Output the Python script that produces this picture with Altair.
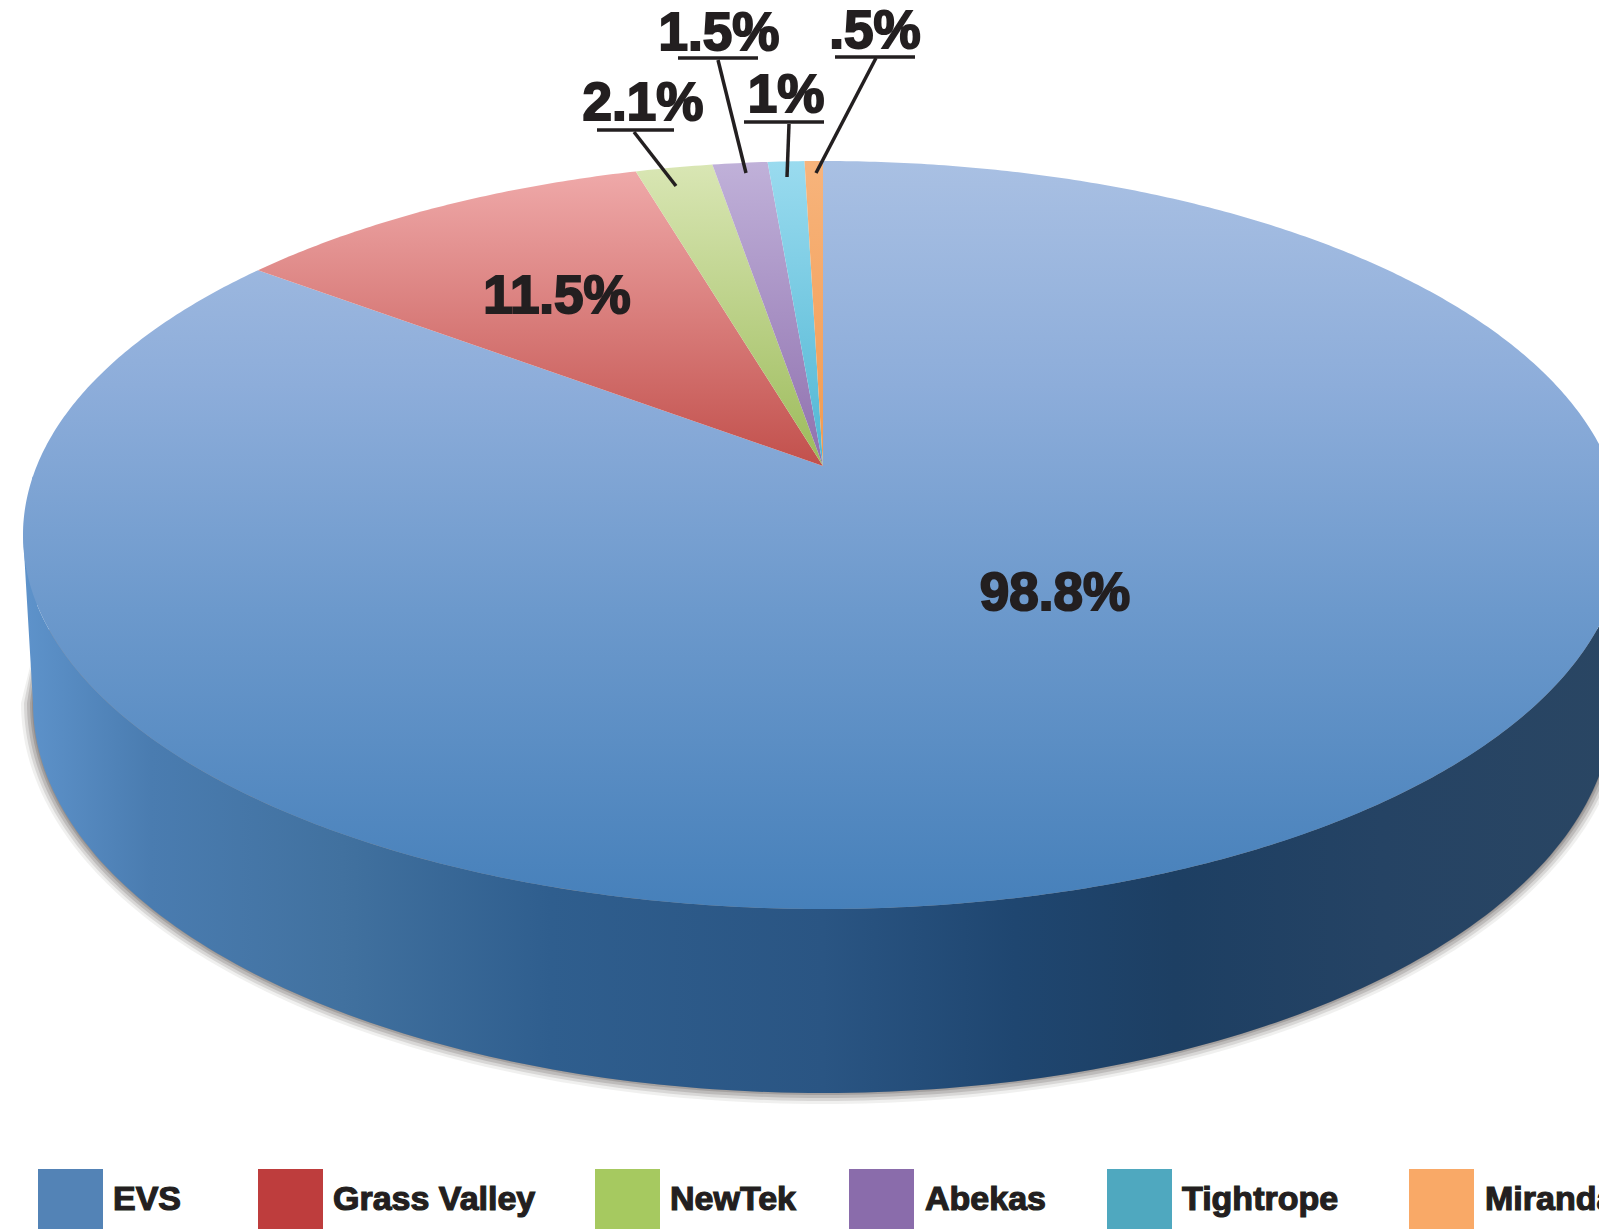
import math
import altair as alt
import pandas as pd

# ---- chart values ----
VENDORS = ["EVS", "Grass Valley", "NewTek", "Abekas", "Tightrope", "Miranda"]
VALUE_LABELS = ["98.8%", "11.5%", "2.1%", "1.5%", "1%", ".5%"]
# slice sizes as drawn: the picture's EVS slice sweeps a little less than its printed 98.8
VALUES = [96.2, 11.5, 2.1, 1.5, 1.0, 0.5]
SWATCH_COLORS = ["#5383B6", "#BE3D3D", "#A6C960", "#8A6CAB", "#4FA8BF", "#F9A967"]

# ---- styling: top-face gradients for each slice ----
FACE_STOPS = [
    [("#A9C0E3", 0), ("#8DADDA", 0.3), ("#6C99CC", 0.6), ("#4680BA", 1)],
    [("#EFA9A9", 0), ("#C2504C", 1)],
    [("#D9E6B4", 0), ("#9CBB5A", 1)],
    [("#C0B1D9", 0), ("#8F70AE", 1)],
    [("#9ADBEF", 0), ("#4FB6D3", 1)],
    [("#F7B47C", 0), ("#F29A4F", 1)],
]
WALL_STOPS = [("#5E93CB", 0), ("#4A7CB0", 0.08), ("#41719F", 0.2), ("#2F5E8E", 0.33),
              ("#2A5583", 0.5), ("#1F4670", 0.62), ("#1D3F63", 0.72), ("#254364", 0.85), ("#2A4663", 1)]

# ---- layout (reference pixel frame) ----
PAGE_RIGHT, PAGE_BOTTOM, MARGIN = 1599, 1229, 8
APEX_X, APEX_Y = 823, 466
TOP, BOTTOM, LEFT = 161, 909, 23
UP, DOWN = APEX_Y - TOP, BOTTOM - APEX_Y
HALF_W = APEX_X - LEFT
ALPHA = 2 / (1 / UP + 1 / DOWN)
GAMMA = ALPHA / UP - 1
DELTA = HALF_W * math.sqrt(1 - GAMMA ** 2)
BASE_CY, BASE_A, BASE_B = 703, 790, 390


def on_face(deg):
    t = math.radians(deg)
    d = 1 + GAMMA * math.cos(t)
    return [APEX_X + DELTA * math.sin(t) / d, APEX_Y - ALPHA * math.cos(t) / d]


def feature(ring):
    return {"type": "Feature", "properties": {}, "geometry": {"type": "Polygon", "coordinates": [ring + [ring[0]]]}}


def base_arc(a, b, cy=BASE_CY):
    return [[APEX_X + a * math.cos(math.radians(d)), cy + b * math.sin(math.radians(d))] for d in range(0, 181)]


PROJECTION = dict(type="identity", scale=1, translate=[-MARGIN, -MARGIN])


def gradient(stops, horizontal=False):
    return alt.Gradient(
        gradient="linear",
        stops=[alt.GradientStop(color=c, offset=o) for c, o in stops],
        x1=0, y1=0, x2=1 if horizontal else 0, y2=0 if horizontal else 1,
    )


layers = []

# soft shadow under the disc
for grow, op in [(13, 0.12), (10, 0.22), (7, 0.32), (4, 0.45), (2, 0.55)]:
    ring = (
        [[APEX_X + BASE_A - 6, 630]]
        + base_arc(BASE_A + grow - 1, BASE_B + grow - 2)
        + [[APEX_X - BASE_A + 6, 630]]
    )
    layers.append(
        alt.Chart(alt.Data(values=[feature(ring)]))
        .mark_geoshape(fill="#85807E", opacity=op, strokeWidth=0)
        .project(**PROJECTION)
    )

# side wall: upper rim left to right, then the lower rim back
upper = sorted([on_face(i / 2) for i in range(180, 541)], key=lambda p: p[0])
ring = upper + base_arc(BASE_A, BASE_B)
layers.append(
    alt.Chart(alt.Data(values=[feature(ring)]))
    .mark_geoshape(fill=gradient(WALL_STOPS, True), strokeWidth=0)
    .project(**PROJECTION)
)

# top face slices: sizes follow VALUES
total = sum(VALUES)
start = 0.0
for value, stops in zip(VALUES, FACE_STOPS):
    end = start + value / total * 360
    n = max(2, int((end - start) * 2))
    arc = [on_face(start + (end - start) * i / n) for i in range(n + 1)]
    layers.append(
        alt.Chart(alt.Data(values=[feature([[APEX_X, APEX_Y]] + arc)]))
        .mark_geoshape(fill=gradient(stops), strokeWidth=0)
        .project(**PROJECTION)
    )
    start = end

x_scale = alt.Scale(domain=[MARGIN, PAGE_RIGHT], range=[0, PAGE_RIGHT - MARGIN])
y_scale = alt.Scale(domain=[MARGIN, PAGE_BOTTOM], range=[0, PAGE_BOTTOM - MARGIN])
X = lambda f: alt.X(f, type="quantitative", scale=x_scale, axis=None)
Y = lambda f: alt.Y(f, type="quantitative", scale=y_scale, axis=None)

INK = "#231F20"
LABEL_FONT = "Liberation Sans"

# leader lines and underlines: x, y, x2, y2
rule_rows = [
    (597, 130, 674, 130), (634, 132, 676, 186),
    (678, 58, 758, 58), (718, 60, 746, 173),
    (744, 122, 824, 122), (789, 124, 787, 177),
    (835, 57, 915, 57), (876, 58, 816, 173),
]
rules = pd.DataFrame(rule_rows, columns=["x", "y", "x2", "y2"])
layers.append(
    alt.Chart(rules).mark_rule(color=INK, strokeWidth=3.5).encode(
        x=X("x"), y=Y("y"), x2="x2:Q", y2="y2:Q"
    )
)

# value labels: centre x, baseline y, in VALUE_LABELS order
label_pos = [(1055, 610), (557, 313), (643, 120), (719, 50), (786, 112), (875, 48)]
labels = pd.DataFrame({"t": VALUE_LABELS, "x": [p[0] for p in label_pos], "y": [p[1] for p in label_pos]})
layers.append(
    alt.Chart(labels).mark_text(
        font=LABEL_FONT, fontWeight="bold", fontSize=53, color=INK, stroke=INK, strokeWidth=2,
        align="center", baseline="alphabetic",
    ).encode(x=X("x"), y=Y("y"), text="t:N")
)

# legend row
swatch_x = [38, 258, 595, 849, 1107, 1409]
text_x = [113, 333, 670, 925, 1182, 1485]
legend = pd.DataFrame({
    "name": VENDORS, "color": SWATCH_COLORS, "x": swatch_x, "x2": [v + 65 for v in swatch_x],
    "y": [1169] * 6, "y2": [PAGE_BOTTOM] * 6, "tx": text_x, "ty": [1210] * 6,
})
layers.append(
    alt.Chart(legend).mark_rect().encode(
        x=X("x"), x2="x2:Q", y=Y("y"), y2="y2:Q", color=alt.Color("color:N", scale=None, legend=None)
    )
)
layers.append(
    alt.Chart(legend).mark_text(
        font=LABEL_FONT, fontWeight="bold", fontSize=34, color=INK, stroke=INK, strokeWidth=1.2,
        align="left", baseline="alphabetic",
    ).encode(x=X("tx"), y=Y("ty"), text="name:N")
)

chart = (
    alt.layer(*layers)
    .properties(width=PAGE_RIGHT - MARGIN, height=PAGE_BOTTOM - MARGIN, padding=0, autosize=alt.AutoSizeParams(type="none"))
    .configure_view(stroke=None)
)
chart.save("out.html", embed_options={"renderer": "svg", "actions": False})
